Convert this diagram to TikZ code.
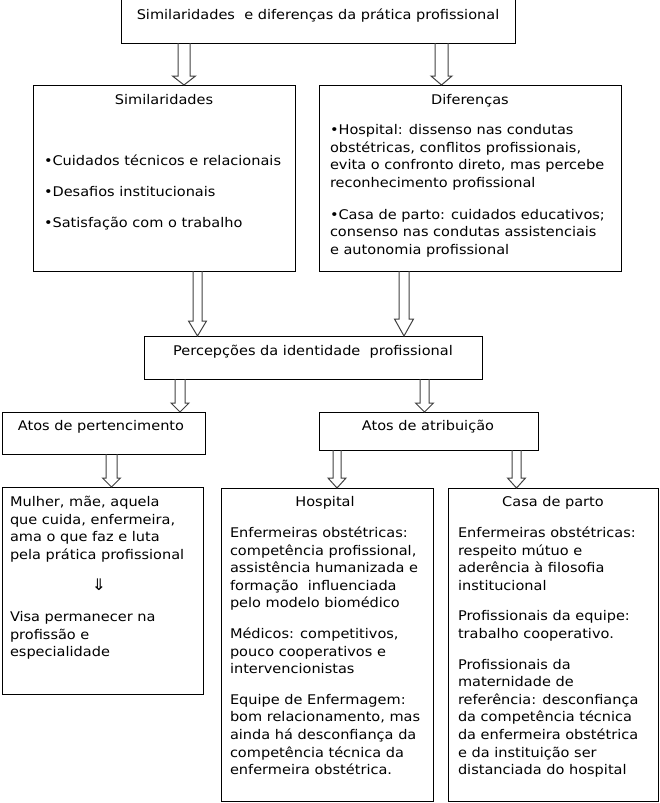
\documentclass[tikz,border=0pt]{standalone}
\usepackage{fontspec}
\setmainfont{DejaVu Sans}[FakeStretch=1.09]
\usetikzlibrary{calc}
\tikzset{
  box/.style={draw=black, line width=1pt, outer sep=0pt, inner sep=0pt, anchor=north west},
  txt/.style={inner sep=0pt, outer sep=0pt, font=\fontsize{13.33}{17.6}\selectfont},
  body/.style={txt, align=left, anchor=north west},
  title/.style={txt, anchor=base},
  arrline/.style={draw=black!75, line width=1pt, line join=miter}
}
\newcommand\hollowarr[6]{%
  \coordinate (hx) at (#3,0);
  \draw[arrline] ($(#1.south -| hx)+(-#4,0)$) -- ($(#2.north -| hx)+(-#4,-#6)$)
    -- ($(#2.north -| hx)+(-#5,-#6)$) -- (#2.north -| hx)
    -- ($(#2.north -| hx)+(#5,-#6)$) -- ($(#2.north -| hx)+(#4,-#6)$)
    -- ($(#1.south -| hx)+(#4,0)$);
}
\begin{document}
\begin{tikzpicture}[x=1pt,y=-1pt]
\useasboundingbox (0,0) rectangle (659,803);
% boxes
\node[box, minimum width=394pt, minimum height=45pt] (top) at (121,-2) {};
\node[box, minimum width=262pt, minimum height=186pt] (sim) at (33,85) {};
\node[box, minimum width=302pt, minimum height=186pt] (dif) at (319,85) {};
\node[box, minimum width=338pt, minimum height=43pt] (perc) at (144,336) {};
\node[box, minimum width=203pt, minimum height=42pt] (pert) at (2,412) {};
\node[box, minimum width=219pt, minimum height=38pt] (atr) at (319,412) {};
\node[box, minimum width=201pt, minimum height=207pt] (mul) at (2,487) {};
\node[box, minimum width=212pt, minimum height=313.5pt] (hosp) at (221,488) {};
\node[box, minimum width=210pt, minimum height=313.5pt] (casa) at (448,488) {};
% texts
\node[title] (toptxt) at (318,19.5) {Similaridades \ e diferenças da prática profissional};
\node[title] (simtit) at (164,104.5) {Similaridades};
\node[body] (simtxt) at (44,153.2) {\strut•Cuidados técnicos e relacionais\\[13.4pt]
  •Desafios institucionais\\[13.4pt]
  •Satisfação com o trabalho};
\node[title] (diftit) at (470,104.5) {Diferenças};
\node[body] (diftxt) at (330,122.2) {\strut•Hospital: dissenso nas condutas\\
  obstétricas, conflitos profissionais,\\
  evita o confronto direto, mas percebe\\
  reconhecimento profissional\\[14.4pt]
  •Casa de parto: cuidados educativos;\\
  consenso nas condutas assistenciais\\
  e autonomia profissional};
\node[title] (perctxt) at (313,355.5) {Percepções da identidade \ profissional};
\node[title] (perttxt) at (101,430.5) {Atos de pertencimento};
\node[title] (atrtxt) at (428,430.5) {Atos de atribuição};
\node[body] (mula) at (10,494.2) {\strut Mulher, mãe, aquela\\
  que cuida, enfermeira,\\
  ama o que faz e luta\\
  pela prática profissional};
\node[title, font=\fontsize{16}{18}\selectfont] (mularr) at (99,590.5) {⇓};
\node[body] (mulb) at (10,609.2) {\strut Visa permanecer na\\
  profissão e\\
  especialidade};
\node[title] (hosptit) at (325,506.5) {Hospital};
\node[body] (hosptxt) at (230,525.2) {\strut Enfermeiras obstétricas:\\
  competência profissional,\\
  assistência humanizada e\\
  formação \ influenciada\\
  pelo modelo biomédico\\[13pt]
  Médicos: competitivos,\\
  pouco cooperativos e\\
  intervencionistas\\[13pt]
  Equipe de Enfermagem:\\
  bom relacionamento, mas\\
  ainda há desconfiança da\\
  competência técnica da\\
  enfermeira obstétrica.};
\node[title] (casatit) at (553,506.5) {Casa de parto};
\node[body] (casatxt) at (458,525.2) {\strut Enfermeiras obstétricas:\\
  respeito mútuo e\\
  aderência à filosofia\\
  institucional\\[13pt]
  Profissionais da equipe:\\
  trabalho cooperativo.\\[13pt]
  Profissionais da\\
  maternidade de\\
  referência: desconfiança\\
  da competência técnica\\
  da enfermeira obstétrica\\
  e da instituição ser\\
  distanciada do hospital};
% arrows
\hollowarr{top}{sim}{184}{6}{11.5}{9}
\hollowarr{top}{dif}{441.5}{6.5}{10.5}{9}
\hollowarr{sim}{perc}{197.5}{4.5}{9}{15}
\hollowarr{dif}{perc}{404}{5}{9.5}{17}
\hollowarr{perc}{pert}{180}{5}{9}{9}
\hollowarr{perc}{atr}{424.5}{4.5}{9}{9}
\hollowarr{pert}{mul}{111.5}{5.5}{9}{9}
\hollowarr{atr}{hosp}{337}{4}{9}{10}
\hollowarr{atr}{casa}{516.5}{4.5}{9}{10}
\end{tikzpicture}
\end{document}
